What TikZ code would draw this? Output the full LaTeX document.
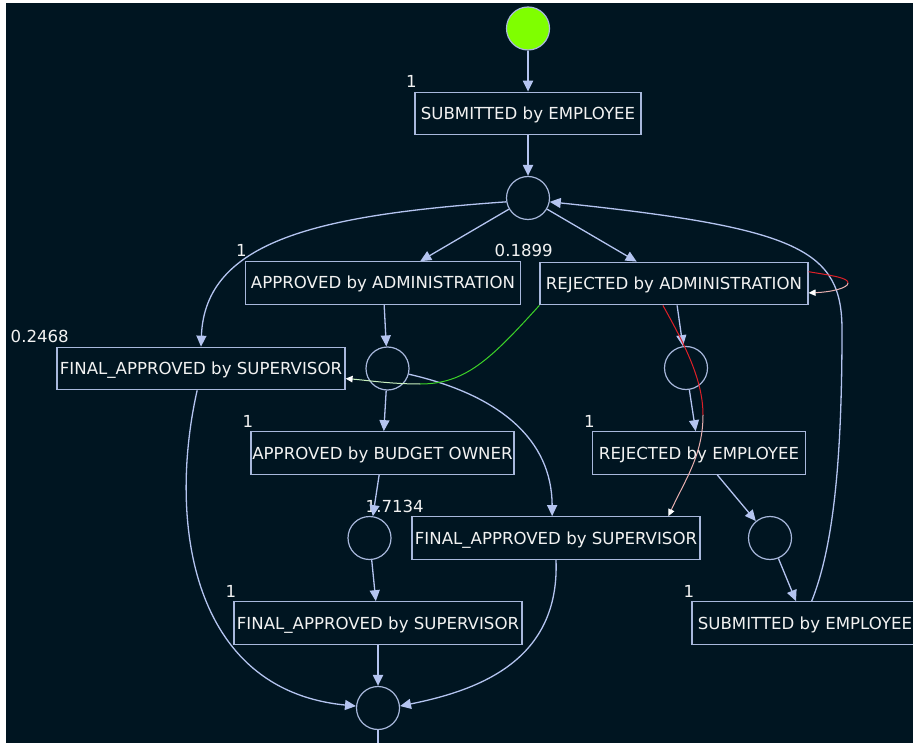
\documentclass[tikz,border=0pt]{standalone}
\usepackage{fontspec}
\setmainfont{DejaVu Sans}
\usetikzlibrary{arrows.meta}
\definecolor{bgcol}{RGB}{0,21,33}
\definecolor{boxcol}{RGB}{168,184,220}
\definecolor{arccol}{RGB}{180,196,240}
\definecolor{txtcol}{RGB}{242,242,242}
\definecolor{startcol}{RGB}{127,255,0}
\definecolor{redcol}{RGB}{222,32,40}
\definecolor{pinkcol}{RGB}{232,176,176}
\definecolor{greencol}{RGB}{60,210,40}
\definecolor{palecol}{RGB}{200,240,190}
\begin{document}
\begin{tikzpicture}[x=1pt, y=-1pt,
	trans/.style={draw=boxcol, line width=1.2pt, fill=bgcol, text=txtcol, font=\fontsize{16.6}{19}\selectfont, minimum height=42.5pt, inner sep=0pt, text height=12pt, text depth=0pt},
	place/.style={circle, draw=boxcol, line width=1.2pt, minimum size=43pt, inner sep=0pt},
	lbl/.style={text=txtcol, font=\fontsize{16.6}{19}\selectfont, anchor=base east, inner sep=0pt},
	arc/.style={draw=arccol, line width=1.3pt, -{Triangle[length=11pt, width=10pt]}},
	colarc/.style={line width=1pt},
	tip/.style={-{Triangle[length=7pt, width=6.5pt, color=white]}}]
	\useasboundingbox (0,0) rectangle (913,743);
	\clip (0,0) rectangle (913,743);
	\fill[white] (0,0) rectangle (913,743);
	\fill[bgcol] (6,3) rectangle (913,743);

	%places
	\node[place, fill=startcol] (start) at (528,28.5) {};
	\node[place] (p1) at (528,198) {};
	\node[place] (p2) at (387.5,368.5) {};
	\node[place] (p3) at (686,368) {};
	\node[place] (p4) at (369.5,538) {};
	\node[place] (p5) at (770,538) {};
	\node[place] (p6) at (378,708) {};
	\coordinate (out) at (378,743);

	%transitions
	\node[trans, minimum width=226pt] (subm) at (528,113.5) {SUBMITTED by EMPLOYEE};
	\node[trans, minimum width=275pt] (apad) at (383,283) {APPROVED by ADMINISTRATION};
	\node[trans, minimum width=268pt] (rjad) at (674,283.5) {REJECTED by ADMINISTRATION};
	\node[trans, minimum width=288pt] (fal) at (201,368.5) {FINAL\_APPROVED by SUPERVISOR};
	\node[trans, minimum width=263pt] (apbo) at (382.5,453) {APPROVED by BUDGET OWNER};
	\node[trans, minimum width=213pt] (rjem) at (699,453) {REJECTED by EMPLOYEE};
	\node[trans, minimum width=288pt] (fam) at (556,538) {FINAL\_APPROVED by SUPERVISOR};
	\node[trans, minimum width=288pt] (fab) at (378,623) {FINAL\_APPROVED by SUPERVISOR};
	\node[trans, minimum width=226pt] (subr) at (805,623) {SUBMITTED by EMPLOYEE};

	%frequencies
	\node[lbl] (fsubm) at (417,88) {1};
	\node[lbl] (fapad) at (247,257) {1};
	\node[lbl] (frjad) at (553,257) {0.1899};
	\node[lbl] (ffal) at (69,342) {0.2468};
	\node[lbl] (fapbo) at (253.5,427) {1};
	\node[lbl] (frjem) at (595,427) {1};
	\node[lbl] (ffam) at (424,512) {1.7134};
	\node[lbl] (ffab) at (236.5,597) {1};
	\node[lbl] (fsubr) at (694.5,597) {1};

	%arcs
	\draw[arc, line width=2pt] (start) -- (subm);
	\draw[arc, line width=2pt] (subm) -- (p1);
	\draw[arc] (p1) -- (apad);
	\draw[arc] (p1) -- (rjad);
	\draw[arc] (p1.190) .. controls (320,215) and (205,240) .. (fal.north);
	\draw[arc] (apad) -- (p2);
	\draw[arc] (p2) -- (apbo);
	\draw[arc] (p2.-15) .. controls (500,395) and (552,440) .. (fam.100);
	\draw[arc] (rjad) -- (p3);
	\draw[arc] (p3) -- (rjem);
	\draw[arc] (rjem) -- (p5);
	\draw[arc] (p5) -- (subr);
	\coordinate (sm) at (842,330);
	\draw[arc] (subr.73) .. controls (832,550) and (842,470) .. (sm) .. controls (842,250) and (800,228) .. (p1.-10);
	\draw[arc] (apbo) -- (p4);
	\draw[arc] (p4) -- (fab);
	\draw[arc, line width=2pt] (fab) -- (p6);
	\draw[arc] (fal.260) .. controls (168,520) and (190,690) .. (p6.175);
	\draw[arc] (fam.south) .. controls (560,660) and (480,690) .. (p6.5);
	\draw[arccol, line width=2pt] (p6) -- (out);

	%coloured arcs
	\coordinate (rl) at (848,283);
	\draw[colarc, redcol] (rjad.5) .. controls (835,276) and (848,278) .. (rl);
	\draw[colarc, pinkcol, tip] (rl) .. controls (848,288) and (832,292) .. (rjad.-4);
	\coordinate (gm) at (420,384);
	\draw[colarc, greencol] (rjad.south west) .. controls (490,360) and (465,384) .. (gm);
	\draw[colarc, palecol, tip] (gm) .. controls (390,384) and (365,380) .. (fal.-4);
	\coordinate (rm) at (703,415);
	\draw[colarc, redcol] (rjad.243) .. controls (685,345) and (703,380) .. (rm);
	\draw[colarc, pinkcol, tip] (rm) .. controls (703,455) and (685,480) .. (fam.11);
\end{tikzpicture}
\end{document}
